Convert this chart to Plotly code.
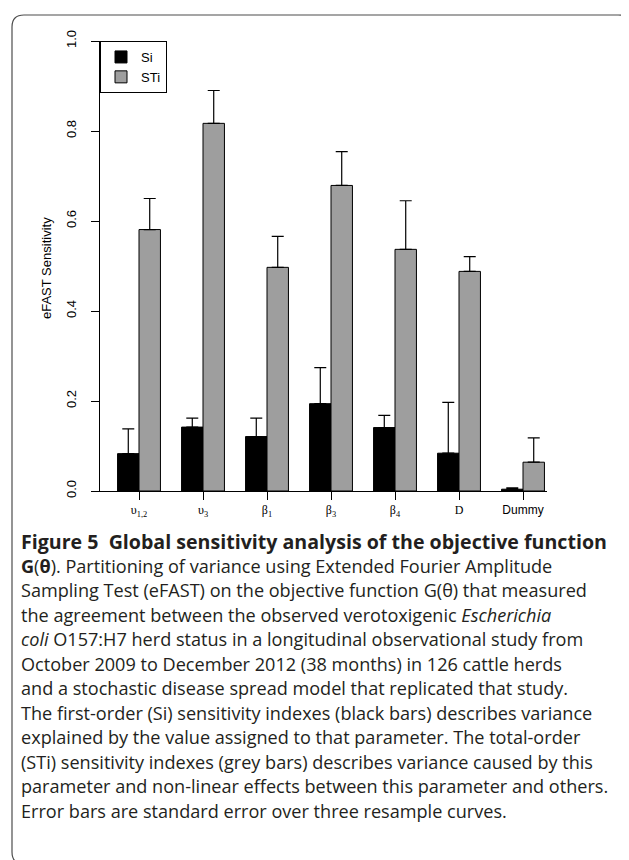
import plotly.graph_objects as go

# parameters on the x axis
params = ["u12", "u3", "b1", "b3", "b4", "D", "Dummy"]
param_labels = ["υ<sub>1,2</sub>", "υ<sub>3</sub>", "β<sub>1</sub>", "β<sub>3</sub>",
                "β<sub>4</sub>", "D", "<span style='font-family:Liberation Sans'>Dummy</span>"]

# first-order (Si) and total-order (STi) eFAST indexes with their standard errors
si = [0.083, 0.142, 0.121, 0.194, 0.141, 0.084, 0.004]
si_se = [0.055, 0.020, 0.041, 0.080, 0.027, 0.113, 0.003]
sti = [0.581, 0.817, 0.497, 0.679, 0.537, 0.488, 0.064]
sti_se = [0.069, 0.073, 0.069, 0.075, 0.108, 0.033, 0.054]

y_ticks = [0.0, 0.2, 0.4, 0.6, 0.8, 1.0]

caption = [
    "<span style='font-size:19.6px'><b>Figure 5  Global sensitivity analysis of the objective function</b></span>",
    "<b>G</b>(<b>θ</b>). Partitioning of variance using Extended Fourier Amplitude",
    "Sampling Test (eFAST) on the objective function G(θ) that measured",
    "the agreement between the observed verotoxigenic <i>Escherichia</i>",
    "<i>coli</i> O157:H7 herd status in a longitudinal observational study from",
    "October 2009 to December 2012 (38 months) in 126 cattle herds",
    "and a stochastic disease spread model that replicated that study.",
    "The first-order (Si) sensitivity indexes (black bars) describes variance",
    "explained by the value assigned to that parameter. The total-order",
    "(STi) sensitivity indexes (grey bars) describes variance caused by this",
    "parameter and non-linear effects between this parameter and others.",
    "Error bars are standard error over three resample curves.",
]

W, H = 629, 860
L, R, T, B = 92, 539, 33, 483
first_tick, step = 131, 64.0


def px(x):
    return (x - L) / (R - L)


def py(y):
    return (B - y) / (B - T)


fig = go.Figure()
fig.add_trace(go.Bar(
    x=params, y=si, name="Si",
    marker=dict(color="black", line=dict(color="black", width=1)),
    error_y=dict(type="data", symmetric=False, array=si_se, arrayminus=[0] * len(si),
                 color="black", thickness=1.2, width=6),
))
fig.add_trace(go.Bar(
    x=params, y=sti, name="STi",
    marker=dict(color="#9e9e9e", line=dict(color="black", width=1)),
    error_y=dict(type="data", symmetric=False, array=sti_se, arrayminus=[0] * len(sti),
                 color="black", thickness=1.2, width=6),
))

fig.update_layout(
    width=W, height=H, autosize=False,
    margin=dict(l=L, r=W - R, t=T, b=H - B),
    paper_bgcolor="white", plot_bgcolor="white",
    barmode="group", bargap=0.33, bargroupgap=0,
    font=dict(family="Liberation Sans", color="black", size=13),
    showlegend=True,
    legend=dict(x=0, y=1, xanchor="left", yanchor="top",
                bordercolor="black", borderwidth=1, bgcolor="white",
                font=dict(size=13, family="Liberation Sans"),
                tracegroupgap=0, itemwidth=30),
)

fig.update_xaxes(
    type="category",
    range=[(L - first_tick) / step, (R - first_tick) / step],
    tickmode="array", tickvals=params, ticktext=param_labels,
    tickfont=dict(family="Liberation Serif", size=12),
    ticks="outside", ticklen=8, tickcolor="black",
    showline=True, linecolor="black", linewidth=1,
    showgrid=False, zeroline=False,
)
fig.update_yaxes(
    range=[0, 1], tickvals=y_ticks, ticktext=["0.0", "0.2", "0.4", "0.6", "0.8", "1.0"],
    tickangle=-90, ticks="outside", ticklen=8, tickcolor="black",
    tickfont=dict(size=13), ticklabelstandoff=10,
    showline=True, linecolor="black", linewidth=1,
    showgrid=False, zeroline=False,
)

# y axis title
fig.add_annotation(text="eFAST Sensitivity", textangle=-90, showarrow=False,
                   xref="paper", yref="paper", x=px(38), y=py(260),
                   xanchor="center", yanchor="middle", font=dict(size=13))

# figure caption
for i, line in enumerate(caption):
    fig.add_annotation(text=line, showarrow=False, xref="paper", yref="paper",
                       x=px(11), y=py(533 + 24.5 * i), xanchor="left", yanchor="middle",
                       font=dict(family="Open Sans", size=18.1, color="#231f20"))

# rounded outer frame
x0, y0, x1, y1, r = 4, 7, 622, 856, 12
path = (f"M {px(x0 + r)},{py(y0)} L {px(x1 - r)},{py(y0)} Q {px(x1)},{py(y0)} {px(x1)},{py(y0 + r)} "
        f"L {px(x1)},{py(y1 - r)} Q {px(x1)},{py(y1)} {px(x1 - r)},{py(y1)} "
        f"L {px(x0 + r)},{py(y1)} Q {px(x0)},{py(y1)} {px(x0)},{py(y1 - r)} "
        f"L {px(x0)},{py(y0 + r)} Q {px(x0)},{py(y0)} {px(x0 + r)},{py(y0)} Z")
fig.add_shape(type="path", path=path, xref="paper", yref="paper",
              line=dict(color="#4d4d4d", width=1.2), layer="below")

fig.write_html("out.html")
